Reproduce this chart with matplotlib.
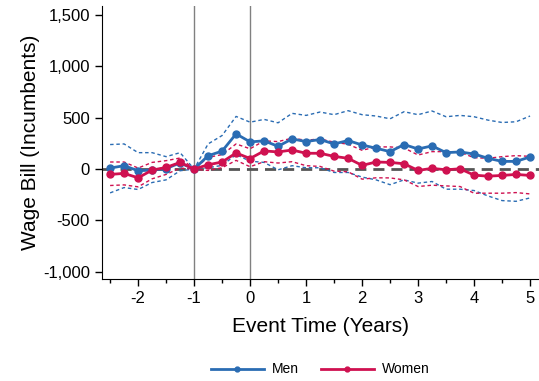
import matplotlib.pyplot as plt
import numpy as np

plt.rcParams['font.family'] = ['Liberation Sans', 'DejaVu Sans']

# Event time in years (quarterly)
event_time = np.arange(-2.5, 5.01, 0.25)

men = [10, 33, -16, -10, 5, 60, 0, 130, 175, 343, 265,
       275, 222, 294, 268, 288, 245, 278, 235, 203, 170,
       239, 196, 226, 160, 167, 147, 105, 75, 75, 118]
men_hi = [239, 245, 160, 160, 121, 160, 0, 245, 327, 513, 457,
          484, 451, 543, 523, 556, 530, 569, 530, 517, 490,
          559, 530, 566, 510, 523, 510, 477, 454, 461, 517]
men_lo = [-232, -180, -199, -131, -105, -16, 0, 13, 36, 141, 77,
          65, -7, 33, 13, 13, -33, -33, -78, -105, -152,
          -105, -137, -121, -196, -196, -209, -262, -307, -314, -281]

women = [-52, -42, -85, -10, 16, 65, 0, 42, 69, 157, 103,
         177, 167, 186, 154, 154, 124, 105, 36, 69, 65,
         52, -13, 7, -7, 3, -59, -69, -62, -52, -62]
women_hi = [69, 69, 10, 65, 82, 108, 0, 114, 141, 245, 198,
            275, 268, 301, 281, 294, 262, 242, 183, 216, 216,
            206, 137, 170, 170, 164, 111, 105, 121, 131, 124]
women_lo = [-160, -154, -173, -95, -52, 10, 0, -13, 13, 85, 23,
            72, 59, 72, 33, 26, -20, -26, -98, -85, -86,
            -105, -170, -157, -164, -170, -235, -235, -235, -229, -242]

blue = '#2a6cb3'
red = '#cf1150'

fig = plt.figure(figsize=(5.39, 3.81), dpi=100)
ax = fig.add_axes([0.1887, 0.2677, 0.8113, 0.7163])

ax.axvline(-1, color='#808080', lw=1, zorder=1)
ax.axvline(0, color='#808080', lw=1, zorder=1)
ax.axhline(0, color='#555555', lw=2, ls=(0, (4, 2.5)), zorder=1)

ax.plot(event_time, men_hi, color=blue, lw=1, ls=(0, (2.5, 2)), zorder=2)
ax.plot(event_time, men_lo, color=blue, lw=1, ls=(0, (2.5, 2)), zorder=2)
ax.plot(event_time, women_hi, color=red, lw=1, ls=(0, (2.5, 2)), zorder=2)
ax.plot(event_time, women_lo, color=red, lw=1, ls=(0, (2.5, 2)), zorder=2)

ax.plot(event_time, men, color=blue, lw=2, marker='o', ms=5, label='Men', zorder=3)
ax.plot(event_time, women, color=red, lw=2, marker='o', ms=5, label='Women', zorder=3)

ax.set_xlim(-2.65, 5.16)
ax.set_ylim(-1071, 1588)
ax.set_xticks(range(-2, 6))
ax.set_xticks(np.arange(-2.5, 5.0, 1.0), minor=True)
ax.set_xticklabels([str(v) for v in range(-2, 6)])
ax.set_yticks(range(-1000, 1501, 500))
ax.set_yticklabels(['-1,000', '-500', '0', '500', '1,000', '1,500'])
ax.tick_params(axis='both', labelsize=12, length=5, width=1)
ax.tick_params(axis='x', which='minor', length=3, width=1)

for s in ['top', 'right']:
    ax.spines[s].set_visible(False)

ax.set_xlabel('Event Time (Years)', fontsize=15, labelpad=8)
ax.set_ylabel('Wage Bill (Incumbents)', fontsize=15, labelpad=2)

ax.legend(loc='upper center', bbox_to_anchor=(0.5, -0.26), ncol=2, frameon=False,
          fontsize=10, markerscale=0.7, handlelength=3.8, handletextpad=0.6,
          columnspacing=1.6)

fig.savefig('out.png', dpi=100)
